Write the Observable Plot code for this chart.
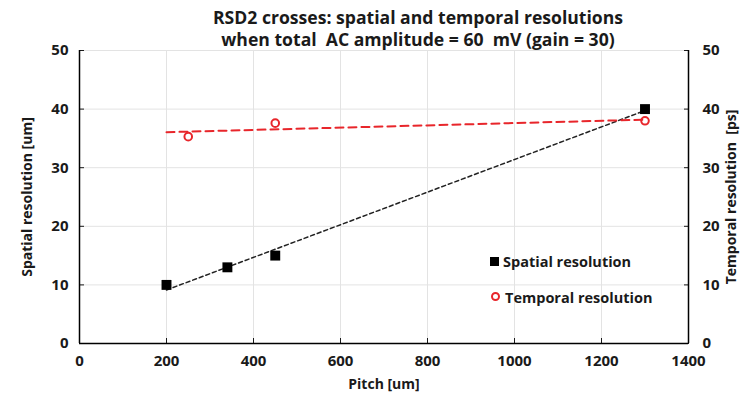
<!DOCTYPE html>
<html><head><meta charset="utf-8">
<script src="https://cdn.jsdelivr.net/npm/d3@7"></script>
<script src="https://cdn.jsdelivr.net/npm/@observablehq/plot@0.6"></script>
<style>
body{margin:0;background:#fff;font-family:"Open Sans",sans-serif;}
#wrap{position:relative;width:749px;height:394px;}
#chart svg text{font-weight:700;}
#title{position:absolute;left:118px;top:6px;width:600px;text-align:center;font-weight:700;font-size:17.6px;line-height:22px;color:#1a1a1a;}
.leg{position:absolute;font-size:14.5px;font-weight:700;color:#1a1a1a;white-space:nowrap;line-height:18px;}
.sq{display:inline-block;width:9px;height:9px;background:#000;margin-right:4px;vertical-align:1px;}
.ci{display:inline-block;width:5px;height:5px;border:2px solid #e8262b;border-radius:50%;margin-right:5px;vertical-align:2px;}
</style></head>
<body>
<div id="wrap">
<div id="chart"></div>
<div id="title">RSD2 crosses: spatial and temporal resolutions<br>when total&nbsp; AC amplitude = 60&nbsp; mV (gain = 30)</div>
<div class="leg" style="left:490px;top:253px"><span class="sq"></span>Spatial resolution</div>
<div class="leg" style="left:491px;top:289px"><span class="ci"></span>Temporal resolution</div>
</div>
<script>
const spatialPitch = [200, 340, 450, 1300];
const spatialRes = [10, 13, 15, 40];
const temporalPitch = [250, 450, 1300];
const temporalRes = [35.3, 37.6, 38.0];
const trendRange = [200, 1300];
const xTicks = [0, 200, 400, 600, 800, 1000, 1200, 1400];
const yTicks = [0, 10, 20, 30, 40, 50];

function fit(xs, ys) {
  const mx = d3.mean(xs), my = d3.mean(ys);
  let sxy = 0, sxx = 0;
  xs.forEach((x, i) => { sxy += (x - mx) * (ys[i] - my); sxx += (x - mx) ** 2; });
  const b = sxy / sxx, a = my - b * mx;
  return trendRange.map(x => ({x, y: a + b * x}));
}
const spatial = spatialPitch.map((x, i) => ({x, y: spatialRes[i]}));
const temporal = temporalPitch.map((x, i) => ({x, y: temporalRes[i]}));
const spatialTrend = fit(spatialPitch, spatialRes);
const temporalTrend = fit(temporalPitch, temporalRes);

const chart = Plot.plot({
  width: 749, height: 394,
  marginLeft: 79, marginRight: 61, marginTop: 50, marginBottom: 51,
  style: {fontFamily: "Open Sans", fontSize: "14px", fontWeight: 700, color: "#1a1a1a", background: "#fff"},
  x: {domain: [0, 1400]},
  y: {domain: [0, 50]},
  marks: [
    Plot.gridX(xTicks, {stroke: "#e3e3e3", strokeOpacity: 1}),
    Plot.gridY(yTicks, {stroke: "#e3e3e3", strokeOpacity: 1}),
    Plot.axisX({ticks: xTicks, tickSize: -5, tickPadding: 17, label: null, fontSize: 15, fontWeight: 700, tickFormat: d => String(d)}),
    Plot.axisX({ticks: [], tickSize: 0, label: "Pitch [um]", labelAnchor: "center", labelOffset: 45, labelArrow: "none"}),
    Plot.axisY({anchor: "left", ticks: yTicks, tickSize: -5, tickPadding: 16, label: null, fontSize: 15, fontWeight: 700}),
    Plot.axisY({anchor: "left", ticks: [], tickSize: 0, label: "Spatial resolution [um]", labelAnchor: "center", labelOffset: 57, labelArrow: "none"}),
    Plot.axisY({anchor: "right", ticks: yTicks, tickSize: -5, tickPadding: 19, label: null, fontSize: 15, fontWeight: 700}),
    Plot.axisY({anchor: "right", ticks: [], tickSize: 0, label: "Temporal resolution  [ps]", labelAnchor: "center", labelOffset: 47, labelArrow: "none"}),
    Plot.ruleX([0, 1400], {stroke: "#000", strokeWidth: 1.5}),
    Plot.ruleY([0], {stroke: "#000", strokeWidth: 1.5}),
    Plot.line(spatialTrend, {x: "x", y: "y", stroke: "#222", strokeWidth: 1.5, strokeDasharray: "4,3"}),
    Plot.line(temporalTrend, {x: "x", y: "y", stroke: "#e8262b", strokeWidth: 2, strokeDasharray: "8,5"}),
    Plot.dot(spatial, {x: "x", y: "y", symbol: "square", r: 5.6, fill: "#000", stroke: "none"}),
    Plot.dot(temporal, {x: "x", y: "y", r: 3.8, fill: "none", stroke: "#e8262b", strokeWidth: 2})
  ]
});
document.getElementById("chart").appendChild(chart);
</script>
</body></html>
